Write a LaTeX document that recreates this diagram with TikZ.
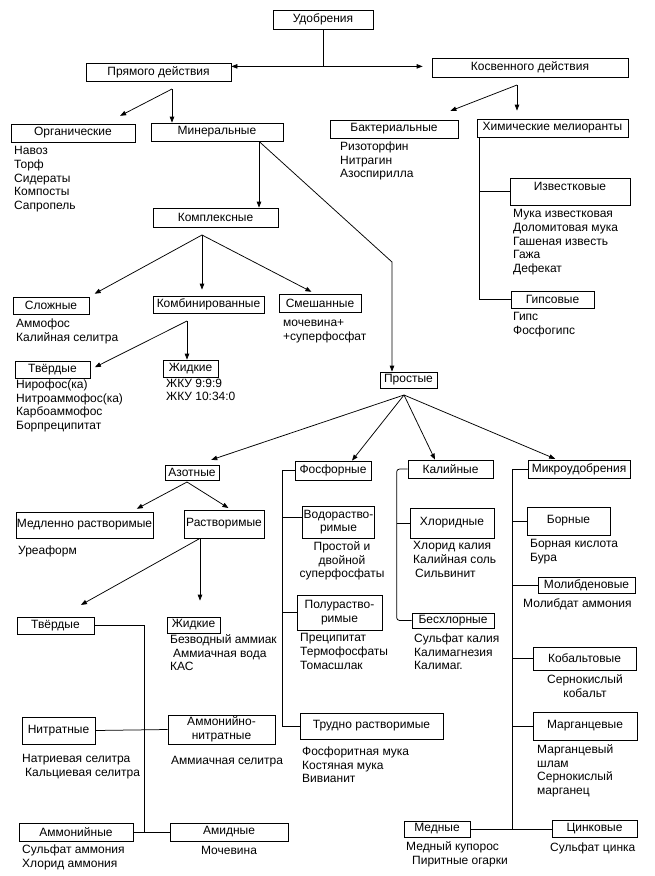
\documentclass[tikz,border=0pt]{standalone}
\usepackage{fontspec}
\setmainfont{Liberation Sans}
\usetikzlibrary{positioning, arrows.meta}

\begin{document}
\begin{tikzpicture}[x=1pt, y=-1pt,
    font=\fontsize{12}{13.6}\selectfont,
    box/.style={draw, rectangle, line width=0.75pt, inner sep=1pt, align=center},
    items/.style={anchor=north west, align=left, inner sep=0pt, yshift=-2pt,
                  execute at begin node=\strut},
    arrow/.style={-{Triangle[length=6pt, width=4.5pt]}, line width=0.75pt},
    link/.style={line width=0.75pt}]
  \useasboundingbox (0,0) rectangle (655,876);

  \node[box, minimum width=100pt, minimum height=19pt] (udo) at (323,19.5) {Удобрения};
  \node[box, minimum width=145pt, minimum height=18pt] (pryam) at (158.5,72) {Прямого действия};
  \node[box, minimum width=196pt, minimum height=19pt] (kosv) at (530,67.5) {Косвенного действия};
  \coordinate (top) at ([yshift=-37pt]udo.south);
  \draw[link] (udo.south) -- (top);
  \draw[arrow] (top) -- (top -| pryam.east);
  \draw[arrow, shorten >=9pt] (top) -- (top -| kosv.west);

  \node[box, minimum width=124pt, minimum height=18pt] (org) at (73,133) {Органические};
  \node[box, minimum width=132pt, minimum height=18pt] (miner) at (217,132) {Минеральные};
  \node[items] (org-list) at (14,144.5) {Навоз\\Торф\\Сидераты\\Компосты\\Сапропель};
  \coordinate (pr) at (172,89);
  \draw[arrow, shorten >=17pt] (pr) -- ([xshift=32pt]org.north);
  \draw[arrow] (pr) -- (pr |- miner.north);

  \node[box, minimum width=128pt, minimum height=18pt] (bakt) at (394,129) {Бактериальные};
  \node[box, minimum width=151pt, minimum height=18pt] (khim) at (552.5,128) {Химические мелиоранты};
  \node[items] (bakt-list) at (340,139.5) {Ризоторфин\\Нитрагин\\Азоспирилла};
  \coordinate (kb2) at (517,85);
  \draw[arrow, shorten >=24pt] (kb2) -- ([xshift=34pt]bakt.north);
  \draw[arrow, shorten >=8pt] (kb2) -- (kb2 |- khim.north);

  \node[box, minimum width=120pt, text height=11pt, text depth=14pt] (izv) at (570,191.5) {Известковые};
  \node[items] (izv-list) at (513,207.5) {Мука известковая\\Доломитовая мука\\Гашеная известь\\Гажа\\Дефекат};
  \node[box, minimum width=83pt, minimum height=17pt] (gips) at (552.5,299.5) {Гипсовые};
  \node[items] (gips-list) at (513,310.5) {Гипс\\Фосфогипс};
  \coordinate (hv) at ([xshift=3pt]khim.south west);
  \draw[link] (hv) |- (gips.west);
  \draw[link] (hv |- izv.west) -- (izv.west);

  \node[box, minimum width=125pt, minimum height=19pt] (kompl) at (215.5,217.5) {Комплексные};
  \coordinate (mb) at ([xshift=42pt]miner.south);
  \draw[arrow] (mb) -- (mb |- kompl.north);

  \node[box, minimum width=76pt, minimum height=17pt] (slozh) at (51,305.5) {Сложные};
  \node[box, minimum width=111pt, minimum height=17pt] (komb) at (208.5,304.5) {Комбинированные};
  \node[box, minimum width=82pt, minimum height=18pt] (smesh) at (320,303) {Смешанные};
  \node[items] (slozh-list) at (16,316.5) {Аммофос\\Калийная селитра};
  \node[items] (smesh-list) at (283,317.5) {мочевина+\\+суперфосфат};
  \coordinate (kb) at (202,235);
  \draw[arrow, shorten >=6pt] (kb) -- (slozh.north east);
  \draw[arrow, shorten >=6pt] (kb) -- (kb |- komb.north);
  \draw[arrow, shorten >=4pt] (kb) -- ([xshift=-5pt]smesh.north);

  \node[box, minimum width=75pt, minimum height=17pt] (tverd) at (52.5,369.5) {Твёрдые};
  \node[box, minimum width=55pt, minimum height=17pt] (zhidk) at (190.5,368.5) {Жидкие};
  \node[items] (tverd-list) at (16,377.5) {Нирофос(ка)\\Нитроаммофос(ка)\\Карбоаммофос\\Борпреципитат};
  \node[items] (zhidk-list) at (166,376.5) {ЖКУ 9:9:9\\ЖКУ 10:34:0};
  \coordinate (cb) at (187,321);
  \draw[arrow, shorten >=5pt] (cb) -- (tverd.east);
  \draw[arrow] (cb) -- (cb |- zhidk.north);

  \node[box, minimum width=57pt, minimum height=16pt] (prost) at (408.5,380) {Простые};
  \coordinate (kink) at (392,262);
  \draw[arrow] (mb) -- (kink) -- (kink |- prost.north);

  \node[box, minimum width=54pt, minimum height=15pt] (azot) at (192,472.5) {Азотные};
  \node[box, minimum width=76pt, minimum height=19pt] (fosf) at (333,470.5) {Фосфорные};
  \node[box, minimum width=85pt, minimum height=18pt] (kali) at (450.5,469) {Калийные};
  \node[box, minimum width=102pt, minimum height=18pt] (micro) at (579,469) {Микроудобрения};
  \coordinate (pb) at (404,395);
  \draw[arrow, shorten >=15pt] (pb) -- ([xshift=5pt]azot.north);
  \draw[arrow] (pb) -- ([xshift=19pt]fosf.north);
  \draw[arrow] (pb) -- ([xshift=-15.5pt]kali.north);
  \draw[arrow, shorten >=2pt] (pb) -- ([xshift=-22pt]micro.north);

  \node[box, minimum width=137pt, minimum height=26pt] (medl) at (84.5,525) {Медленно растворимые};
  \node[box, minimum width=80pt, minimum height=28pt] (rastv) at (224,524) {Растворимые};
  \node[items] (medl-list) at (18,542.5) {Уреаформ};
  \coordinate (ab) at (187,482);
  \draw[arrow, shorten >=6pt] (ab) -- ([xshift=47pt]medl.north);
  \draw[arrow, shorten >=3pt] (ab) -- ([xshift=7pt]rastv.north);

  \node[box, minimum width=77pt, minimum height=17pt] (tverdN) at (55.5,625.5) {Твёрдые};
  \node[box, minimum width=53pt, minimum height=16pt] (zhidkN) at (193.5,625) {Жидкие};
  \node[items] (zhidkN-list) at (170,632.5) {Безводный аммиак\\\hspace*{3pt}Аммиачная вода\\КАС};
  \coordinate (rb) at ([xshift=-24pt]rastv.south);
  \draw[arrow, shorten >=24pt] (rb) -- ([xshift=4.5pt]tverdN.north);
  \draw[arrow, shorten >=16pt] (rb) -- (rb |- zhidkN.north);

  \node[box, minimum width=73pt, minimum height=27pt] (nitrat) at (58.5,730.5) {Нитратные};
  \node[box, minimum width=107pt, minimum height=29pt] (amnitr) at (221.5,729.5) {Аммонийно-\\нитратные};
  \node[items] (nitrat-list) at (22,752.5) {Натриевая селитра\\\hspace*{3pt}Кальциевая селитра};
  \node[items] (amnitr-list) at (171,752.5) {Аммиачная селитра};
  \node[box, minimum width=114pt, minimum height=18pt] (ammon) at (76,832) {Аммонийные};
  \node[box, minimum width=118pt, minimum height=18pt] (amid) at (229,832) {Амидные};
  \node[items] (ammon-list) at (22,842.5) {Сульфат аммония\\Хлорид аммония};
  \node[items, anchor=north] (amid-list) at (229,842.5) {Мочевина};
  \coordinate (tj) at (144,832);
  \draw[link] (tverdN.east) -| (tj);
  \draw[link] (nitrat.east) -- (amnitr.west);
  \draw[link] (ammon.east) -- (amid.west);

  \node[box, minimum width=67pt, minimum height=32pt] (voda) at (338.5,522) {Водораство-\\римые};
  \node[items, anchor=north, align=center] (voda-list) at (342,539.5) {Простой и\\двойной\\суперфосфаты};
  \node[box, minimum width=85pt, minimum height=35pt] (polu) at (339.5,612.5) {Полураство-\\римые};
  \node[items] (polu-list) at (300,631.5) {Преципитат\\Термофосфаты\\Томасшлак};
  \node[box, minimum width=143pt, minimum height=26pt] (trudno) at (371.5,726) {Трудно растворимые};
  \node[items] (trudno-list) at (302,744.5) {Фосфоритная мука\\Костяная мука\\Вивианит};
  \coordinate (fx) at ([xshift=-12pt]fosf.west);
  \draw[link] (fosf.west) -- (fx) |- (trudno.west);
  \draw[link] ([yshift=5pt]fx |- voda.west) -- ([yshift=5pt]voda.west);
  \draw[link] (fx |- polu.west) -- (polu.west);

  \node[box, minimum width=84pt, minimum height=30pt] (khlor) at (452,523) {Хлоридные};
  \node[items] (khlor-list) at (413,539.5) {Хлорид калия\\Калийная соль\\\hspace*{2pt}Сильвинит};
  \node[box, minimum width=82pt, minimum height=15pt] (beskh) at (453,620.5) {Бесхлорные};
  \node[items] (beskh-list) at (414,631.5) {Сульфат калия\\Калимагнезия\\Калимаг.};
  \coordinate (kx) at ([xshift=-11pt]kali.west);
  \draw[link, rounded corners=3pt] (kali.west) -- (kx) |- (beskh.west);
  \draw[link] (kx |- khlor.west) -- (khlor.west);

  \node[box, minimum width=83pt, minimum height=28pt] (bor) at (568.5,521) {Борные};
  \node[items] (bor-list) at (530,537.5) {Борная кислота\\Бура};
  \node[box, minimum width=97pt, minimum height=16pt] (molib) at (586.5,585) {Молибденовые};
  \node[items] (molib-list) at (523,595.5) {Молибдат аммония};
  \node[box, minimum width=103pt, minimum height=23pt] (kobalt) at (584.5,658.5) {Кобальтовые};
  \node[items, anchor=north, align=center] (kobalt-list) at (585,672.5) {Сернокислый\\кобальт};
  \node[box, minimum width=104pt, minimum height=28pt] (marg) at (585,726) {Марганцевые};
  \node[items] (marg-list) at (537,742.5) {Марганцевый\\шлам\\Сернокислый\\марганец};
  \node[box, minimum width=66pt, minimum height=16pt] (med) at (437,829) {Медные};
  \node[box, minimum width=85pt, minimum height=17pt] (zink) at (594.5,829) {Цинковые};
  \node[items] (med-list) at (406,839.5) {Медный купорос\\\hspace*{6pt}Пиритные огарки};
  \node[items] (zink-list) at (550,839.5) {Сульфат цинка};
  \coordinate (mx) at ([xshift=-15pt]micro.west);
  \draw[link] (micro.west) -- (mx) -- (mx |- zink.west);
  \draw[link] (med.east) -- (zink.west);
  \draw[link] (mx |- bor.west) -- (bor.west);
  \draw[link] (mx |- molib.west) -- (molib.west);
  \draw[link] (mx |- kobalt.west) -- (kobalt.west);
  \draw[link] (mx |- marg.west) -- (marg.west);
\end{tikzpicture}
\end{document}
